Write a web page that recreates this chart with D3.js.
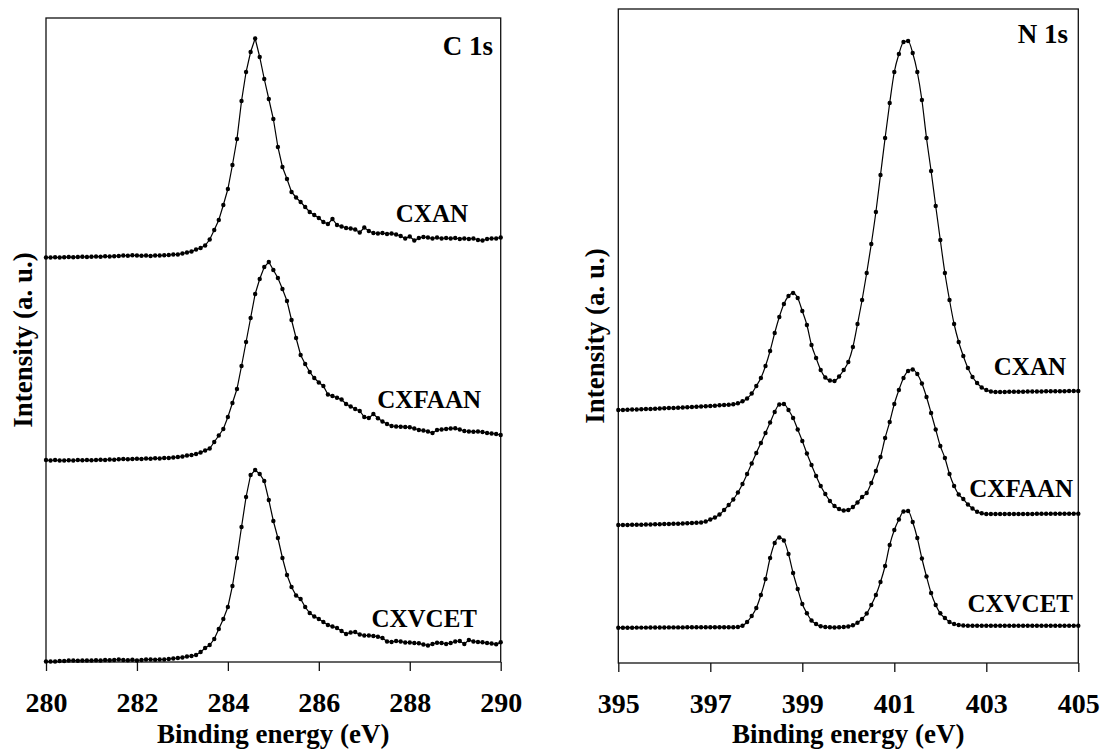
<!DOCTYPE html>
<html><head><meta charset="utf-8">
<script src="https://cdn.jsdelivr.net/npm/d3@7"></script>
<style>
body{margin:0;background:#fff}
svg text{font-family:"Liberation Serif","Times New Roman",serif;font-weight:bold;fill:#000}
</style>
</head><body>
<svg id="chart" width="1105" height="754"></svg>
<script>
// ---------------- DATA ----------------
const seriesNames = ["CXAN", "CXFAAN", "CXVCET"];
const energyStep = 0.1;
const c1sStart = 280, n1sStart = 395;
const c1sTicks = [280, 282, 284, 286, 288, 290];
const n1sTicks = [395, 397, 399, 401, 403, 405];

// C 1s intensities (a.u.), 280.0 ... 290.0 eV
const c1sCXAN = [404.5,404.5,404.7,404.5,404.8,405,404.8,405,405.2,405,
405.2,405.5,405.3,405.7,405.5,405.8,406,406.5,406.2,406.7,
406.5,406.2,406.5,406,406.5,406.5,406.7,407,407.5,407.5,
408.5,409.5,410.5,412.5,414,416.5,422.5,432,442,457,
473,497,523,561,590,610,623.5,605,583,563,
543,515,495,483,470,464.5,460,455,450,447,
444,440,438,443,437,435.5,434,433.5,432.5,429.5,
434.5,431,429,428.5,429,428,428.5,427.5,426,423.5,
425.5,421.5,424,425,424.5,423.5,424.5,423.5,424,423.5,
424,423,423.5,423,423.5,422,421.5,423,423.5,423.5,
424.5];
const c1sCXFAAN = [202,201.5,202,201.5,201.5,201.7,201.5,202,201.7,202,
201.7,202,202.3,202,202.5,202.3,202.7,203,202.7,203,
203.3,203,203.5,203.3,203.7,203.5,204,204,204.5,205,
205.5,206.5,207,208,209.5,211.5,213.5,220,226.5,233,
245,259,273,296,320,344,368,383,395,400,
392,384,373,361,342,324,307,298,290,284,
279.5,276,267.5,266,264.3,262.5,258,255.5,253,251,
245,244,248,243.7,240.5,238,236,235.5,235.3,235,
234.7,233.5,232,231.5,230.5,229,232,232.5,233,233.5,
233.7,232.5,231,230.5,230.3,230.5,230,229,228.5,228,
227];
const c1sCXVCET = [0.5,0.5,0.5,1,1,1.5,1.5,1.3,1.5,1.5,
1.5,1.7,1.5,2,1.8,2,2.5,2,1.7,2.2,
1.5,2,2.5,2.5,2.3,2.5,2.5,3,3.5,4,
4.5,5.5,6,7,10,14,17,23,33,43,
55,76,104,135,165,187,192,188,181,162,
141,124,104,87,75,66.5,63,55,49,45.5,
43,40,37,35.5,34,31,28,29.5,30,27.5,
26.5,26.5,26,25.3,24,20.5,20,21,20.5,19.5,
19.5,19,18.7,17.5,16.5,18,19.3,19,18,19,
20.5,21,18,22,20.5,20,19.7,19,18.5,17.7,
19.7];

// N 1s intensities (a.u.), 395.0 ... 405.0 eV
const n1sCXAN = [253,253,253.3,253.5,253.5,253.7,254,254,254.3,254.5,
254.7,255,255,255.3,255.5,255.7,256,256.3,256.5,256.8,
257,257.3,257.7,258,258.3,258.7,259.7,261.7,264.5,269.5,
277,285,297,312,330,346,359,367,370,365,
352,338,318,305,293,285.5,282.5,282,286.5,293,
301,316,339,363,390,419,451,488,525,560,
591,609,621,622,610,591,563,525,492,457,
423,390,363,339,321,307,295,286,280,275.5,
273,271.5,271,271,271,271.2,271.2,271.3,271.3,271.5,
271.5,271.5,271.5,271.7,271.7,271.7,271.8,271.8,272,272,
272];
const n1sCXFAAN = [138,138,138,138.2,138.2,138.3,138.5,138.5,138.7,138.7,
139,139,139.2,139.3,139.5,139.7,140,140.2,140.5,141.5,
143.5,145.5,148.5,153,158,163.5,170.5,179,189,199.5,
210,220,230,240.5,251,258.5,259,253,245,233.5,
222,209.5,198,187,177,169,162,157,154,152.5,
153,156,160.5,166,170,180,192,206,225,241,
259,273,285,292,293.5,289,279.5,266,250,233.5,
217,205,189,177,168.5,164,158.5,154.5,151.3,149.7,
149,149,149,149,149,149,149,149,149,149,
149,149.2,149.2,149.2,149.2,149.3,149.3,149.3,149.3,149.3,
149.3];
const n1sCXVCET = [35.3,35.3,35.3,35.3,35.4,35.4,35.4,35.5,35.5,35.5,
35.5,35.6,35.6,35.6,35.6,35.7,35.7,35.7,35.7,35.7,
35.8,35.8,35.8,35.8,35.8,35.7,36,37.3,41,47,
55,68,84,105,120,125.5,122.5,109,90,74,
59,49.7,42.5,39,36.7,36,35.7,35.5,35.7,36,
36.5,37.7,40.3,44,49.5,58,68,81,97,118,
133,143.5,151.5,152,141,125,104.5,86.5,70,58,
49.7,45,41,39,38,37.5,37.3,37.3,37.3,37.3,
37.3,37.3,37.3,37.3,37.3,37.3,37.3,37.3,37.3,37.3,
37.3,37.3,37.3,37.3,37.3,37.3,37.3,37.3,37.3,37.3,
37.3];

// ---------------- LAYOUT ----------------
const FONT = "'Liberation Serif','Times New Roman',serif";
const svg = d3.select("#chart");
const panels = [
  {title:"C 1s", start:c1sStart, ticks:c1sTicks, xDom:[280,290], yDom:[0,644],
   left:46, right:500.7, top:18, bottom:662,
   series:[c1sCXAN,c1sCXFAAN,c1sCXVCET],
   titlePos:[493,55], labelPos:[[468,222],[481,408],[477,627]], curve:d3.curveLinear},
  {title:"N 1s", start:n1sStart, ticks:n1sTicks, xDom:[395,405], yDom:[0,654],
   left:618.3, right:1078.3, top:9, bottom:663,
   series:[n1sCXAN,n1sCXFAAN,n1sCXVCET],
   titlePos:[1068,43], labelPos:[[1066,375],[1073,497],[1073,612]], curve:d3.curveMonotoneX}
];

function txt(sel, size) {
  return sel.attr("font-family", FONT).attr("font-weight", "bold")
    .attr("font-size", size).attr("fill", "#000");
}

panels.forEach(p => {
  const x = d3.scaleLinear().domain(p.xDom).range([p.left, p.right]);
  const y = d3.scaleLinear().domain(p.yDom).range([p.bottom, p.top]);
  const g = svg.append("g");

  // frame
  g.append("rect").attr("x", p.left).attr("y", p.top)
    .attr("width", p.right - p.left).attr("height", p.bottom - p.top)
    .attr("fill", "none").attr("stroke", "#111").attr("stroke-width", 1.3);

  // x axis
  const ax = g.append("g").attr("transform", `translate(0,${p.bottom})`)
    .call(d3.axisBottom(x).tickValues(p.ticks).tickFormat(d3.format("d"))
      .tickSize(9).tickSizeOuter(0).tickPadding(21));
  ax.attr("font-family", FONT);
  ax.select(".domain").remove();
  ax.selectAll(".tick line").attr("stroke", "#111").attr("stroke-width", 1.3);
  txt(ax.selectAll(".tick text"), 28);

  // axis titles
  txt(g.append("text"), 27).attr("x", (p.left + p.right) / 2).attr("y", 743)
    .attr("text-anchor", "middle").text("Binding energy (eV)");
  txt(g.append("text"), 27)
    .attr("transform", `translate(${p.left - 14},${(p.top + p.bottom) / 2}) rotate(-90)`)
    .attr("text-anchor", "middle").text("Intensity (a. u.)");

  // series
  p.series.forEach((vals, si) => {
    const pts = vals.map((v, i) => [p.start + i * energyStep, v]);
    g.append("path").datum(pts)
      .attr("fill", "none").attr("stroke", "#000").attr("stroke-width", 1.2)
      .attr("d", d3.line().x(d => x(d[0])).y(d => y(d[1])).curve(p.curve));
    g.append("g").selectAll("circle").data(pts).join("circle")
      .attr("cx", d => x(d[0])).attr("cy", d => y(d[1])).attr("r", 2.2).attr("fill", "#000");
    txt(g.append("text"), 25).attr("x", p.labelPos[si][0]).attr("y", p.labelPos[si][1])
      .attr("text-anchor", "end").text(seriesNames[si]);
  });

  txt(g.append("text"), 27).attr("x", p.titlePos[0]).attr("y", p.titlePos[1])
    .attr("text-anchor", "end").text(p.title);
});
</script>
</body></html>
